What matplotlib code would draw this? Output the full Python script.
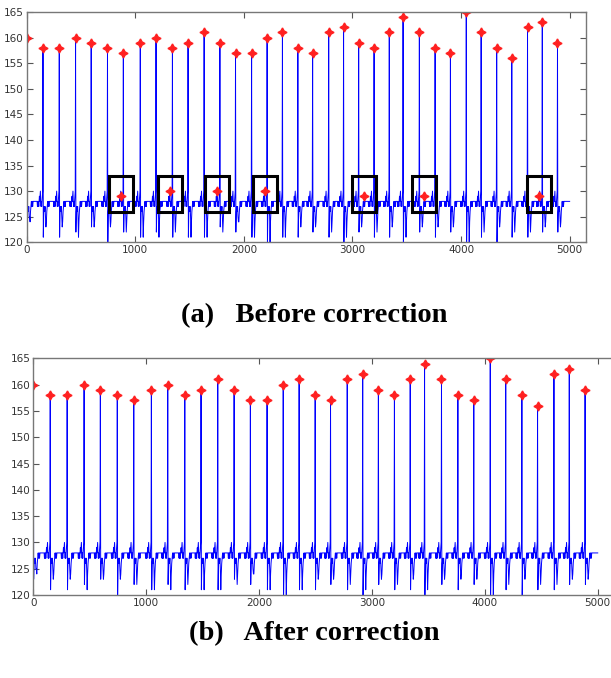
import matplotlib
matplotlib.use('Agg')
import matplotlib.pyplot as plt
from matplotlib.patches import Rectangle
import numpy as np

# R peaks (sample index, value) - same in both panels
peak_x = [0, 150, 300, 450, 594, 744, 890, 1046, 1191, 1342, 1486, 1634, 1779, 1923,
          2071, 2214, 2355, 2497, 2633, 2781, 2918, 3057, 3199, 3339, 3466, 3616, 3761,
          3902, 4048, 4185, 4328, 4467, 4612, 4748, 4888]
peak_y = [160, 158, 158, 160, 159, 158, 157, 159, 160, 158, 159, 161, 159, 157,
          157, 160, 161, 158, 157, 161, 162, 159, 158, 161, 164, 161, 158,
          157, 165, 161, 158, 156, 162, 163, 159]
# depth of the two dips following each spike
s_min = [123, 121, 121, 122, 123, 120, 122, 121, 122, 121, 121, 121, 123, 122, 121, 120, 121, 121,
         122, 121, 120, 122, 121, 121, 120, 122, 121, 122, 120, 121, 120, 121, 121, 122, 122]
t_min = [125, 123, 123, 121, 123, 123, 122, 121, 121, 122, 121, 121, 122, 124, 121, 120, 121, 123,
         123, 122, 121, 123, 122, 123, 121, 123, 123, 123, 120, 122, 123, 122, 122, 123, 123]

# false detections (before correction only)
false_x = [870, 1321, 1753, 2198, 3105, 3662, 4717]
false_y = [129, 130, 130, 130, 129, 129, 129]

# beat shape around a peak ('P' = peak, 'S'/'T' = dips)
tmpl_off = [-54, -51, -48, -45, -42, -39, -36, -33, -30, -27, -24, -21, -18, -15, -12, -9, -6, -3,
            0, 3, 7, 11, 15, 19, 23, 27, 31, 35, 39, 43, 47, 51, 55, 59, 62]
tmpl_val = [128, 127, 128, 127, 128, 127, 128, 129, 128, 129, 130, 128, 127, 128, 127, 128, 129, 130,
            'P', 'S', 126, 127, 126, 127, 125, 'T', 124, 126, 127, 128, 127, 128, 127, 128, 128]
sig_end = 5000
baseline = 128

# build the trace
xs, ys = [], []
for i, (px, pv) in enumerate(zip(peak_x, peak_y)):
    if i > 0:
        xs.append(peak_x[i - 1] + tmpl_off[-1] + 8); ys.append(baseline)
    for off, v in zip(tmpl_off, tmpl_val):
        x = px + off
        if x < 0:
            continue
        if v == 'P':
            v = pv
        elif v == 'S':
            v = s_min[i]
        elif v == 'T':
            v = t_min[i]
        xs.append(x); ys.append(v)
xs.append(sig_end); ys.append(baseline)

fig = plt.figure(figsize=(6.11, 6.78), dpi=100)
ax1 = fig.add_axes([0.0437, 0.6426, 0.9153, 0.3397])
ax2 = fig.add_axes([0.0545, 0.1224, 0.9515, 0.3491])

for ax in (ax1, ax2):
    ax.plot(xs, ys, color='#0000ff', lw=0.7)
    ax.plot(peak_x, peak_y, ls='none', marker=(4, 1, 0), ms=6.5, color='#ff2020', mec='#ff2020')
    ax.set_xlim(0, 5150)
    ax.set_ylim(120, 165)
    ax.set_xticks(range(0, 5001, 1000))
    ax.set_yticks(range(120, 166, 5))
    ax.tick_params(direction='in', length=4, top=True, right=True, labelsize=7.5,
                   labelcolor='#333333', color='#555555', pad=2)
    for s in ax.spines.values():
        s.set_color('#777777')
        s.set_linewidth(1.0)
ax2.tick_params(right=False)

ax1.plot(false_x, false_y, ls='none', marker=(4, 1, 0), ms=6.5, color='#ff2020', mec='#ff2020')
for fx in false_x:
    ax1.add_patch(Rectangle((fx - 110, 126), 220, 7, fill=False, ec='black', lw=2.2, zorder=5))

fig.text(0.514, 0.535, '(a)   Before correction', ha='center', va='center',
         family='Liberation Serif', fontweight='bold', fontsize=20.5)
fig.text(0.514, 0.066, '(b)   After correction', ha='center', va='center',
         family='Liberation Serif', fontweight='bold', fontsize=20.5)

fig.savefig('out.png', dpi=100)
